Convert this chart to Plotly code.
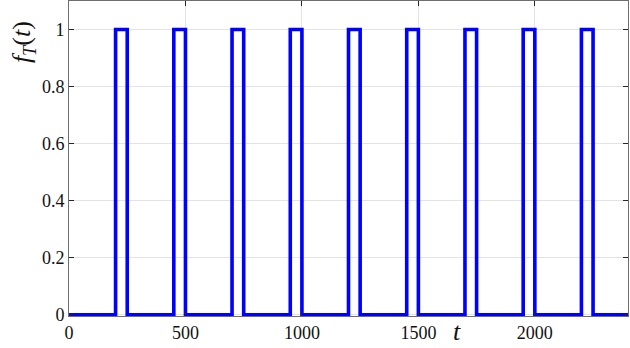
import plotly.graph_objects as go

# Step-function vertices (value holds until next time point)
t_points = [0, 200, 250, 450, 500, 700, 750, 950, 1000, 1200, 1250,
            1450, 1500, 1700, 1750, 1950, 2000, 2200, 2250, 2400]
f_values = [0, 1, 0, 1, 0, 1, 0, 1, 0, 1, 0,
            1, 0, 1, 0, 1, 0, 1, 0, 0]

x_ticks = [0, 500, 1000, 1500, 2000]
x_tick_labels = ["0", "500", "1000", "1500", "2000"]
y_ticks = [0, 0.2, 0.4, 0.6, 0.8, 1]
y_tick_labels = ["0", "0.2", "0.4", "0.6", "0.8", "1"]

FONT = "'Liberation Serif', 'DejaVu Serif', serif"

fig = go.Figure()
fig.add_trace(go.Scatter(
    x=t_points, y=f_values, mode="lines", line_shape="hv",
    line=dict(color="#0000ff", width=3.6), showlegend=False, hoverinfo="skip",
))

axis_common = dict(
    showline=True, linecolor="#6e6e6e", linewidth=1, mirror="ticks",
    ticks="inside", ticklen=5, tickwidth=1, tickcolor="#262626",
    showgrid=True, gridcolor="#e3e3e3", gridwidth=1, zeroline=False,
    tickfont=dict(family=FONT, size=18, color="#111111"),
)

fig.update_xaxes(range=[0, 2400], tickvals=x_ticks, ticktext=x_tick_labels, **axis_common)
fig.update_yaxes(range=[-0.004, 1.1], tickvals=y_ticks, ticktext=y_tick_labels, **axis_common)

fig.add_annotation(
    text="<i>f</i><sub><i>T</i></sub>(<i>t</i>)", xref="paper", yref="paper",
    x=-0.082, y=0.87, xanchor="center", yanchor="middle", textangle=-90,
    showarrow=False, font=dict(family=FONT, size=26, color="#111111"),
)
fig.add_annotation(
    text="<i>t</i>", xref="x", yref="paper", x=1665, y=-0.048,
    xanchor="center", yanchor="middle", showarrow=False,
    font=dict(family=FONT, size=26, color="#111111"),
)

fig.update_layout(
    width=630, height=348,
    margin=dict(l=69, r=2, t=1, b=32),
    paper_bgcolor="white", plot_bgcolor="white",
    font=dict(family=FONT),
)

fig.write_html("out.html")
